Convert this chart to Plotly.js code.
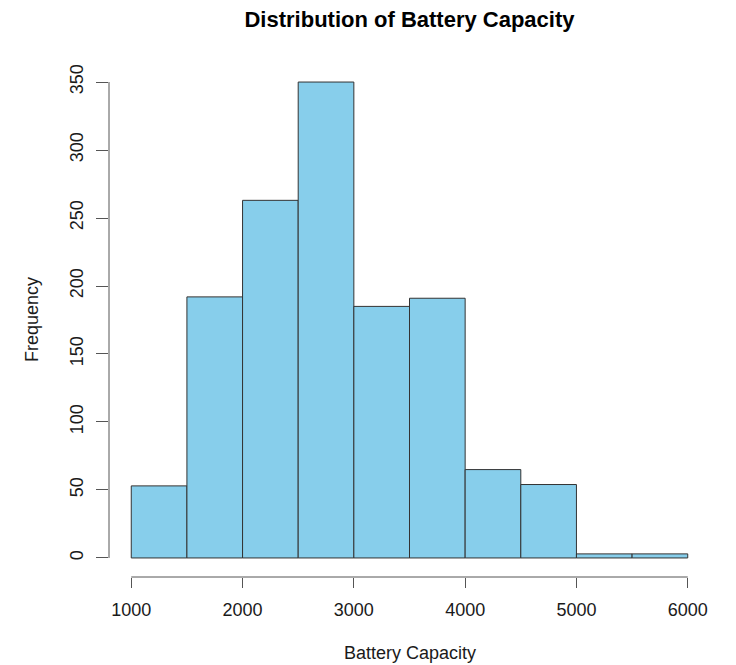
<!DOCTYPE html>
<html>
<head>
<meta charset="utf-8">
<script src="https://cdn.plot.ly/plotly-3.0.1.min.js"></script>
<style>html,body{margin:0;padding:0;background:#fff;}#chart{width:736px;height:665px;}</style>
</head>
<body>
<div id="chart"></div>
<script>
// Histogram bins (left edges) and counts
var binStarts = [1000, 1500, 2000, 2500, 3000, 3500, 4000, 4500, 5000, 5500];
var binWidth = 500;
var counts = [53, 192, 263, 350, 185, 191, 65, 54, 3, 3];
var xTicks = [1000, 2000, 3000, 4000, 5000, 6000];
var yTicks = [0, 50, 100, 150, 200, 250, 300, 350];

var titleText = 'Distribution of Battery Capacity';
var xLabel = 'Battery Capacity';
var yLabel = 'Frequency';

var font = 'Liberation Sans, Arial, sans-serif';
var axisColor = '#555555';

var trace = {
  type: 'bar',
  x: binStarts,
  y: counts,
  width: binStarts.map(function(){return binWidth;}),
  offset: 0,
  marker: {color: '#87CEEB', line: {color: '#333333', width: 1}},
  hoverinfo: 'x+y'
};

var layout = {
  width: 736, height: 665,
  margin: {l: 109, r: 26, t: 63, b: 88},
  paper_bgcolor: '#ffffff', plot_bgcolor: '#ffffff',
  showlegend: false,
  bargap: 0,
  title: {
    text: '<b>' + titleText + '</b>',
    font: {family: font, size: 22, color: '#000000'},
    xref: 'paper', x: 0.5, xanchor: 'center',
    yref: 'container', y: 1 - 19/665, yanchor: 'middle'
  },
  xaxis: {
    range: [800, 6200],
    tickmode: 'array', tickvals: xTicks, ticktext: xTicks.map(String),
    ticks: 'outside', ticklen: 10, tickwidth: 1, tickcolor: axisColor,
    ticklabelstandoff: 6,
    showline: false, showgrid: false, zeroline: false,
    tickfont: {family: font, size: 18, color: '#1a1a1a'},
    fixedrange: true
  },
  yaxis: {
    range: [-14, 364],
    tickmode: 'array', tickvals: yTicks, ticktext: yTicks.map(String),
    ticks: 'outside', ticklen: 12, tickwidth: 1, tickcolor: axisColor,
    tickangle: -90,
    ticklabelstandoff: 6,
    showline: false, showgrid: false, zeroline: false,
    tickfont: {family: font, size: 18, color: '#1a1a1a'},
    fixedrange: true
  },
  shapes: [
    {type: 'line', xref: 'x', yref: 'paper', x0: xTicks[0], x1: xTicks[xTicks.length-1], y0: 0, y1: 0,
     line: {color: axisColor, width: 1}},
    {type: 'line', xref: 'paper', yref: 'y', x0: 0, x1: 0, y0: yTicks[0], y1: yTicks[yTicks.length-1],
     line: {color: axisColor, width: 1}}
  ],
  annotations: [
    {text: xLabel, xref: 'paper', yref: 'paper', x: 0.5, y: 0, yshift: -76,
     xanchor: 'center', yanchor: 'middle', showarrow: false,
     font: {family: font, size: 18, color: '#1a1a1a'}},
    {text: yLabel, xref: 'paper', yref: 'paper', x: 0, y: 0.5, xshift: -77,
     xanchor: 'center', yanchor: 'middle', textangle: -90, showarrow: false,
     font: {family: font, size: 18, color: '#1a1a1a'}}
  ]
};

Plotly.newPlot('chart', [trace], layout, {displayModeBar: false, staticPlot: true});
</script>
</body>
</html>
